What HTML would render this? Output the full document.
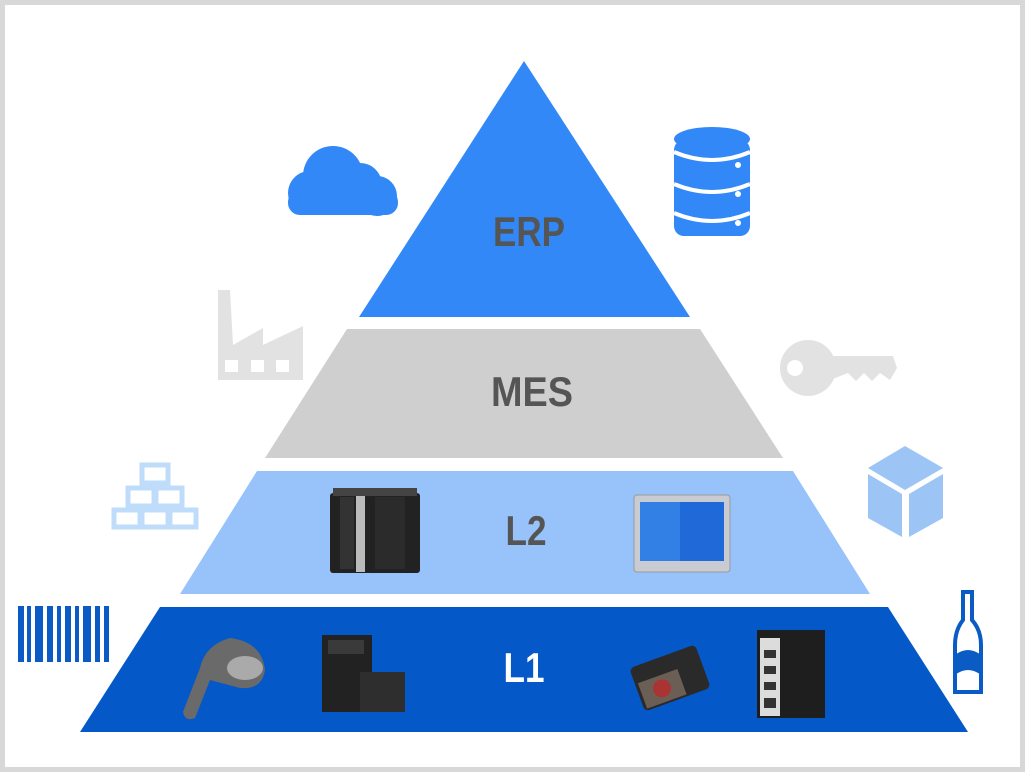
<!DOCTYPE html>
<html><head><meta charset="utf-8"><style>
html,body{margin:0;padding:0;background:#fff}
svg{display:block}
text{font-family:"Liberation Sans",sans-serif;font-weight:bold;fill:#555}
</style></head><body>
<svg width="1025" height="772" viewBox="0 0 1025 772" xmlns="http://www.w3.org/2000/svg">
<rect x="0" y="0" width="1025" height="772" fill="#d8d8d8"/>
<rect x="5" y="5" width="1015" height="762" fill="#fff"/>
<!-- pyramid -->
<polygon points="524,61 690,317 359,317" fill="#3388f8"/>
<polygon points="347,329 700,329 783,458 265,458" fill="#d0cfd0"/>
<polygon points="257,471 793,471 870,594 180,594" fill="#97c3fa"/>
<polygon points="160,607 888,607 968,732 80,732" fill="#0558c8"/>
<text x="529" y="246" font-size="42" text-anchor="middle" textLength="72" lengthAdjust="spacingAndGlyphs">ERP</text>
<text x="532" y="406" font-size="42" text-anchor="middle" textLength="82" lengthAdjust="spacingAndGlyphs">MES</text>
<text x="526" y="545" font-size="42" text-anchor="middle" textLength="41" lengthAdjust="spacingAndGlyphs">L2</text>
<text x="524" y="682" font-size="42" text-anchor="middle" textLength="41" lengthAdjust="spacingAndGlyphs" style="fill:#fff">L1</text>
<!-- cloud -->
<g fill="#3388f8">
<circle cx="333" cy="176" r="30"/><circle cx="360" cy="185" r="22"/><circle cx="377" cy="196" r="20"/><circle cx="310" cy="193" r="22"/>
<rect x="288" y="190" width="110" height="25" rx="12"/>
</g>
<!-- database -->
<g fill="#3388f8">
<rect x="674" y="140" width="76" height="96" rx="10"/>
<ellipse cx="712" cy="139" rx="38" ry="12"/>
</g>
<g stroke="#fff" stroke-width="4" fill="none">
<path d="M674 152 Q712 168 750 152"/><path d="M674 184 Q712 200 750 184"/><path d="M674 213 Q712 229 750 213"/>
</g>
<g fill="#fff"><circle cx="738" cy="165" r="3"/><circle cx="738" cy="194" r="3"/><circle cx="738" cy="223" r="3"/></g>
<!-- factory -->
<g fill="#e2e2e2">
<path d="M218 380 L218 290 L230 290 L233 345 L263 328 L263 345 L303 326 L303 380 Z"/>
</g>
<g fill="#fff"><rect x="225" y="360" width="13" height="12"/><rect x="251" y="360" width="13" height="12"/><rect x="276" y="360" width="13" height="12"/></g>
<!-- key -->
<g fill="#e2e2e2">
<circle cx="808" cy="368" r="28"/>
<path d="M830 356 L893 356 L897 368 L890 380 L880 373 L872 381 L864 373 L856 381 L848 373 L830 380 Z"/>
</g>
<circle cx="795" cy="368" r="8" fill="#fff"/>
<!-- blocks -->
<g fill="none" stroke="#bfdcfb" stroke-width="5">
<rect x="142" y="465" width="26" height="18"/>
<rect x="128" y="488" width="26" height="18"/><rect x="156" y="488" width="26" height="18"/>
<rect x="114" y="510" width="26" height="17"/><rect x="142" y="510" width="26" height="17"/><rect x="170" y="510" width="26" height="17"/>
</g>
<!-- box -->
<g fill="#9cc4f5">
<polygon points="868,468 905,446 943,468 905,490"/>
<polygon points="868,474 902,494 902,537 868,518"/>
<polygon points="943,474 909,494 909,537 943,518"/>
</g>
<!-- barcode -->
<g fill="#0a5bc4">
<rect x="18" y="606" width="6" height="56"/><rect x="27" y="606" width="4" height="56"/><rect x="35" y="606" width="8" height="56"/><rect x="47" y="606" width="6" height="56"/><rect x="57" y="606" width="4" height="56"/><rect x="65" y="606" width="6" height="56"/><rect x="75" y="606" width="4" height="56"/><rect x="83" y="606" width="8" height="56"/><rect x="95" y="606" width="5" height="56"/><rect x="104" y="606" width="5" height="56"/>
</g>
<!-- bottle -->
<path d="M963 592 L972 592 L972 620 Q981 630 981 645 L981 692 L955 692 L955 645 Q955 630 963 620 Z" fill="none" stroke="#0a5bc4" stroke-width="4"/>
<path d="M955 655 Q968 645 981 655 L981 675 Q968 665 955 675 Z" fill="#0a5bc4"/>
<!-- L2 PLC -->
<g>
<rect x="330" y="493" width="90" height="80" rx="3" fill="#222"/>
<rect x="356" y="496" width="9" height="76" fill="#bbb"/>
<rect x="340" y="497" width="14" height="72" fill="#333"/>
<rect x="375" y="497" width="30" height="72" fill="#2b2b2b"/>
<rect x="333" y="488" width="84" height="8" fill="#444"/>
</g>
<!-- monitor -->
<rect x="634" y="495" width="96" height="77" rx="3" fill="#c8ccd2" stroke="#999"/>
<rect x="640" y="502" width="84" height="59" fill="#1f6ad8"/>
<rect x="640" y="502" width="40" height="59" fill="#3f8ff0" opacity=".6"/>
<!-- scanner -->
<path d="M230 638 Q262 642 265 670 Q262 690 240 688 L210 680 L195 718 Q185 722 183 712 L200 668 Q205 645 230 638 Z" fill="#6a6a6a"/>
<ellipse cx="245" cy="668" rx="18" ry="12" fill="#aaa"/>
<!-- controller -->
<rect x="322" y="635" width="50" height="77" fill="#222"/>
<rect x="360" y="672" width="45" height="40" fill="#2e2e2e"/>
<rect x="328" y="640" width="36" height="14" fill="#3a3a3a"/>
<!-- camera -->
<g transform="rotate(-20 670 678)">
<rect x="635" y="655" width="70" height="46" rx="5" fill="#2a2a2a"/>
<rect x="638" y="672" width="42" height="27" fill="#6b5e55"/>
<circle cx="659" cy="685" r="9" fill="#a33"/>
</g>
<!-- vision controller -->
<rect x="757" y="630" width="68" height="88" fill="#1e1e1e"/>
<rect x="760" y="638" width="20" height="78" fill="#dcdcdc"/>
<g fill="#333"><rect x="764" y="650" width="12" height="8"/><rect x="764" y="666" width="12" height="8"/><rect x="764" y="682" width="12" height="8"/><rect x="764" y="698" width="12" height="10"/></g>
</svg>
</body></html>
